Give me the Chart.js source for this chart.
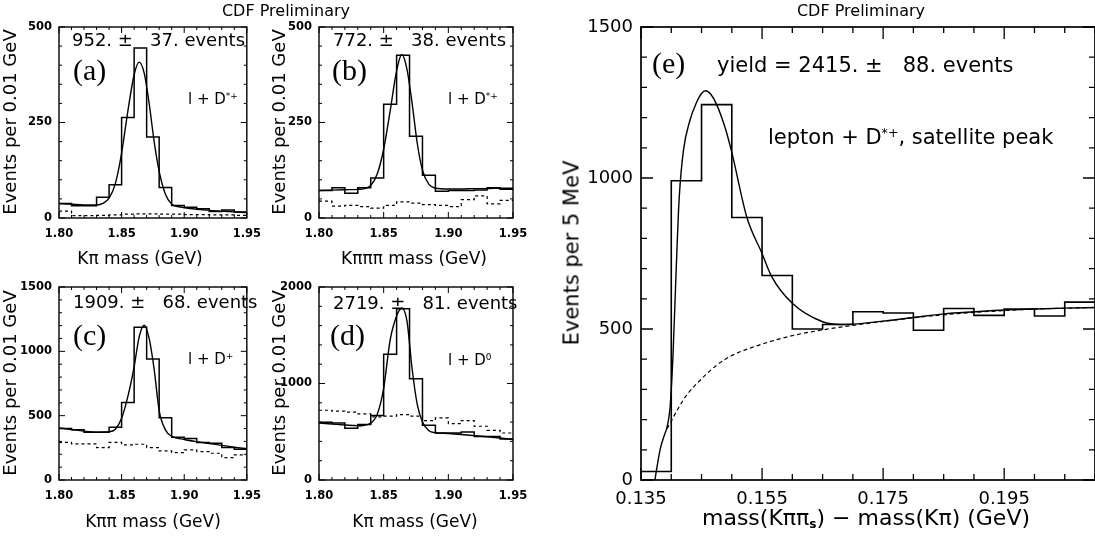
<!DOCTYPE html>
<html>
<head>
<meta charset="utf-8">
<script src="https://cdn.jsdelivr.net/npm/chart.js@4.4.0/dist/chart.umd.min.js"></script>
<style>
  body { margin: 0; background: #fff; }
  #page { position: relative; width: 1095px; height: 539px; overflow: hidden;
          font-family: "DejaVu Sans", sans-serif; color: #000; }
  #page canvas { position: absolute; }
  .txt { position: absolute; white-space: pre; line-height: 1; }
  .ctr { transform: translate(-50%, -50%); }
  .rot { transform: translate(-50%, -50%) rotate(-90deg); }
  .lbl { font-family: "Liberation Serif", "DejaVu Serif", serif; font-size: 30px; }
  .sup { font-size: 0.6em; position: relative; top: -0.55em; }
  .sub { font-size: 0.55em; position: relative; top: 0.25em; font-weight: bold; }
</style>
</head>
<body>
<div id="page">
  <canvas id="pa" width="270" height="270" style="left:0;top:0"></canvas>
  <canvas id="pb" width="270" height="270" style="left:270px;top:0"></canvas>
  <canvas id="pc" width="270" height="269" style="left:0;top:270px"></canvas>
  <canvas id="pd" width="270" height="269" style="left:270px;top:270px"></canvas>
  <canvas id="pe" width="535" height="539" style="left:560px;top:0"></canvas>

  <div class="txt ctr" style="left:286px;top:11px;font-size:16px">CDF Preliminary</div>
  <div class="txt ctr" style="left:861px;top:11px;font-size:16px">CDF Preliminary</div>

  <!-- panel (a) -->
  <div class="txt" style="left:72px;top:31px;font-size:18px">952. ±   37. events</div>
  <div class="txt lbl" style="left:73px;top:55px">(a)</div>
  <div class="txt" style="left:188px;top:92px;font-size:15px">l + D<span class="sup">*+</span></div>
  <div class="txt rot" style="left:10px;top:122px;font-size:18px">Events per 0.01 GeV</div>
  <div class="txt ctr" style="left:140px;top:258px;font-size:17px">Kπ mass (GeV)</div>

  <!-- panel (b) -->
  <div class="txt" style="left:333px;top:31px;font-size:18px">772. ±   38. events</div>
  <div class="txt lbl" style="left:332px;top:55px">(b)</div>
  <div class="txt" style="left:448px;top:92px;font-size:15px">l + D<span class="sup">*+</span></div>
  <div class="txt rot" style="left:279px;top:122px;font-size:18px">Events per 0.01 GeV</div>
  <div class="txt ctr" style="left:414px;top:258px;font-size:17px">Kπππ mass (GeV)</div>

  <!-- panel (c) -->
  <div class="txt" style="left:73px;top:293px;font-size:18px">1909. ±   68. events</div>
  <div class="txt lbl" style="left:73px;top:320px">(c)</div>
  <div class="txt" style="left:188px;top:352px;font-size:15px">l + D<span class="sup">+</span></div>
  <div class="txt rot" style="left:10px;top:383px;font-size:18px">Events per 0.01 GeV</div>
  <div class="txt ctr" style="left:153px;top:521px;font-size:17px">Kππ mass (GeV)</div>

  <!-- panel (d) -->
  <div class="txt" style="left:333px;top:294px;font-size:18px">2719. ±   81. events</div>
  <div class="txt lbl" style="left:330px;top:320px">(d)</div>
  <div class="txt" style="left:448px;top:353px;font-size:15px">l + D<span class="sup">0</span></div>
  <div class="txt rot" style="left:279px;top:383px;font-size:18px">Events per 0.01 GeV</div>
  <div class="txt ctr" style="left:415px;top:521px;font-size:17px">Kπ mass (GeV)</div>

  <!-- panel (e) -->
  <div class="txt lbl" style="left:652px;top:48px">(e)</div>
  <div class="txt" style="left:717px;top:55px;font-size:21px">yield = 2415. ±   88. events</div>
  <div class="txt" style="left:768px;top:127px;font-size:21px">lepton + D<span class="sup">*+</span>, satellite peak</div>
  <div class="txt rot" style="left:572px;top:253px;font-size:21px">Events per 5 MeV</div>
  <div class="txt ctr" style="left:866px;top:518px;font-size:22px">mass(Kππ<span class="sub">s</span>) − mass(Kπ) (GeV)</div>
</div>

<script>
// Bin edges (GeV)
const massEdges = [1.80, 1.81, 1.82, 1.83, 1.84, 1.85, 1.86, 1.87, 1.88, 1.89, 1.90, 1.91, 1.92, 1.93, 1.94, 1.95];
const dmEdges = [0.135, 0.140, 0.145, 0.150, 0.155, 0.160, 0.165, 0.170, 0.175, 0.180, 0.185, 0.190, 0.195, 0.200, 0.205, 0.210];

// Tick labels
const massTicks = [1.80, 1.85, 1.90, 1.95];
const dmTicks = [0.135, 0.155, 0.175, 0.195];
const yTicksAB = [0, 250, 500];
const yTicksC = [0, 500, 1000, 1500];
const yTicksD = [0, 1000, 2000];
const yTicksE = [0, 500, 1000, 1500];

// (a) l + D*+, K pi
const aCounts = [38, 32, 32, 54, 87, 263, 445, 212, 80, 33, 28, 24, 17, 21, 16];
const aSideband = [18, 6, 6, 7, 8, 10, 11, 11, 10, 10, 9, 9, 8, 8, 7];
const aFitX = [1.800, 1.810, 1.820, 1.830, 1.835, 1.840, 1.845, 1.850, 1.855, 1.860, 1.864, 1.868, 1.872, 1.876, 1.880, 1.885, 1.890, 1.895, 1.900, 1.910, 1.920, 1.930, 1.940, 1.950];
const aFitY = [38, 36, 34, 34, 38, 52, 90, 170, 280, 375, 408, 380, 300, 200, 122, 62, 36, 30, 27, 23, 20, 18, 16, 14];

// (b) l + D*+, K pi pi pi
const bCounts = [72, 79, 65, 79, 105, 298, 426, 214, 112, 70, 72, 72, 73, 79, 75];
const bSideband = [44, 31, 33, 30, 26, 33, 42, 39, 35, 33, 30, 48, 58, 37, 46];
const bFitX = [1.800, 1.810, 1.820, 1.830, 1.835, 1.840, 1.845, 1.850, 1.855, 1.860, 1.864, 1.868, 1.872, 1.876, 1.880, 1.885, 1.890, 1.900, 1.910, 1.920, 1.930, 1.940, 1.950];
const bFitY = [72, 73, 74, 75, 77, 85, 115, 180, 280, 385, 428, 390, 300, 195, 125, 88, 78, 76, 76, 77, 77, 78, 78];

// (c) l + D+, K pi pi
const cCounts = [400, 390, 372, 372, 410, 603, 1187, 940, 483, 332, 322, 291, 286, 252, 239];
const cSideband = [293, 281, 281, 252, 293, 273, 278, 252, 226, 213, 234, 221, 208, 174, 195];
const cFitX = [1.800, 1.810, 1.820, 1.830, 1.840, 1.845, 1.850, 1.855, 1.860, 1.864, 1.868, 1.872, 1.876, 1.880, 1.885, 1.890, 1.900, 1.910, 1.920, 1.930, 1.940, 1.950];
const cFitY = [405, 392, 380, 372, 375, 395, 480, 650, 880, 1110, 1203, 1100, 860, 540, 390, 340, 315, 298, 284, 269, 255, 243];

// (d) l + D0, K pi
const dCounts = [598, 591, 536, 574, 668, 1304, 1774, 1050, 567, 487, 487, 497, 452, 452, 424];
const dSideband = [723, 713, 703, 685, 654, 661, 678, 661, 616, 643, 584, 616, 557, 515, 487];
const dFitX = [1.800, 1.810, 1.820, 1.830, 1.840, 1.845, 1.850, 1.855, 1.860, 1.864, 1.868, 1.872, 1.876, 1.880, 1.885, 1.890, 1.900, 1.910, 1.920, 1.930, 1.940, 1.950];
const dFitY = [590, 580, 570, 562, 590, 680, 950, 1450, 1700, 1780, 1650, 1150, 780, 600, 510, 490, 482, 472, 460, 448, 435, 420];

// (e) satellite peak, mass difference
const eCounts = [28, 991, 1243, 869, 677, 500, 515, 557, 553, 496, 568, 545, 566, 543, 589];
const eFitX = [0.1373, 0.1377, 0.1382, 0.1388, 0.1393, 0.1398, 0.1403, 0.1408, 0.1413, 0.1420, 0.1431, 0.1441, 0.1450, 0.1457, 0.1465, 0.1475, 0.1490, 0.1500, 0.1525, 0.1550, 0.1565, 0.1600, 0.1650, 0.1680, 0.1700, 0.1750, 0.1800, 0.1850, 0.1900, 0.1950, 0.2000, 0.2050, 0.2100];
const eFitY = [0, 50, 105, 145, 175, 240, 420, 690, 930, 1090, 1192, 1247, 1280, 1289, 1278, 1243, 1160, 1085, 869, 750, 677, 585, 524, 515, 516, 526, 538, 550, 557, 563, 566, 569, 571];
const eBkgX = [0.1393, 0.1400, 0.1410, 0.1425, 0.1450, 0.1475, 0.1500, 0.1550, 0.1600, 0.1650, 0.1700, 0.1750, 0.1800, 0.1850, 0.1900, 0.1950, 0.2000, 0.2050, 0.2100];
const eBkgY = [170, 195, 232, 280, 335, 380, 412, 450, 478, 497, 512, 525, 537, 547, 555, 561, 566, 569, 571];

// histogram: one point per bin low edge, plus the closing edge
function histPoints(edges, counts) {
    const pts = counts.map((c, i) => ({ x: edges[i], y: c }));
    pts.push({ x: edges[edges.length - 1], y: counts[counts.length - 1] });
    return pts;
}

function curvePoints(xs, ys) {
    return xs.map((x, i) => ({ x: x, y: ys[i] }));
}

// Frame with inward ticks on all four sides
const frameTicks = {
    id: 'frameTicks',
    afterDatasetsDraw(chart, args, o) {
        const { ctx, chartArea: a, scales } = chart;
        const sx = scales.x, sy = scales.y;
        ctx.save();
        ctx.strokeStyle = '#000';
        ctx.lineWidth = o.frameWidth;
        ctx.strokeRect(a.left, a.top, a.right - a.left, a.bottom - a.top);
        ctx.lineWidth = o.tickWidth;
        ctx.beginPath();
        const nx = Math.round((sx.max - sx.min) / o.xStep);
        for (let i = 0; i <= nx; i++) {
            const px = sx.getPixelForValue(sx.min + i * o.xStep);
            const len = i % o.xMajor === 0 ? o.majorLen : o.minorLen;
            ctx.moveTo(px, a.bottom); ctx.lineTo(px, a.bottom - len);
            ctx.moveTo(px, a.top); ctx.lineTo(px, a.top + len);
        }
        const ny = Math.round((sy.max - sy.min) / o.yStep);
        for (let i = 0; i <= ny; i++) {
            const py = sy.getPixelForValue(sy.min + i * o.yStep);
            const len = i % o.yMajor === 0 ? o.majorLen : o.minorLen;
            ctx.moveTo(a.left, py); ctx.lineTo(a.left + len, py);
            ctx.moveTo(a.right, py); ctx.lineTo(a.right - len, py);
        }
        ctx.stroke();
        ctx.restore();
    }
};

function makePanel(id, p) {
    const datasets = [
        { data: histPoints(p.edges, p.counts), stepped: 'before', borderWidth: p.histWidth },
        { data: curvePoints(p.fitX, p.fitY), cubicInterpolationMode: 'monotone', borderWidth: 1.4 }
    ];
    if (p.sideband) {
        datasets.push({ data: histPoints(p.edges, p.sideband), stepped: 'before', borderWidth: 1.2, borderDash: [3, 3] });
    }
    if (p.bkgX) {
        datasets.push({ data: curvePoints(p.bkgX, p.bkgY), cubicInterpolationMode: 'monotone', borderWidth: 1.2, borderDash: [4, 3] });
    }
    datasets.forEach(d => {
        d.borderColor = '#000';
        d.pointRadius = 0;
        d.fill = false;
    });

    return new Chart(document.getElementById(id), {
        type: 'line',
        data: { datasets: datasets },
        plugins: [frameTicks],
        options: {
            responsive: false,
            animation: false,
            layout: { padding: { top: p.padTop, right: p.padRight, bottom: 0, left: 0 } },
            scales: {
                x: {
                    type: 'linear',
                    min: p.edges[0],
                    max: p.edges[p.edges.length - 1],
                    grid: { display: false, drawTicks: false },
                    border: { display: false },
                    afterBuildTicks: s => { s.ticks = p.xTicks.map(v => ({ value: v })); },
                    afterFit: s => { s.height = p.xHeight; },
                    ticks: {
                        color: '#000',
                        padding: p.xPad,
                        maxRotation: 0,
                        font: p.tickFont,
                        callback: v => v.toFixed(p.xDigits)
                    }
                },
                y: {
                    type: 'linear',
                    min: 0,
                    max: p.yMax,
                    grid: { display: false, drawTicks: false },
                    border: { display: false },
                    afterBuildTicks: s => { s.ticks = p.yTicks.map(v => ({ value: v })); },
                    afterFit: s => { s.width = p.yWidth; },
                    ticks: {
                        color: '#000',
                        padding: p.yPad,
                        font: p.tickFont,
                        callback: v => String(v)
                    }
                }
            },
            plugins: {
                legend: { display: false },
                tooltip: { enabled: false },
                frameTicks: p.frame
            }
        }
    });
}

const smallFont = { family: 'DejaVu Sans', size: 11.5, weight: 'bold' };
const smallFrame = (yStep) => ({ frameWidth: 1.4, tickWidth: 1, xStep: 0.01, xMajor: 5, yStep: yStep, yMajor: 5, majorLen: 6, minorLen: 3 });

makePanel('pa', {
    edges: massEdges, counts: aCounts, sideband: aSideband, fitX: aFitX, fitY: aFitY,
    yMax: 500, xTicks: massTicks, yTicks: yTicksAB, xDigits: 2, tickFont: smallFont,
    padTop: 27, padRight: 17, yWidth: 59, xHeight: 52, xPad: 9, yPad: 7, histWidth: 1.5,
    frame: smallFrame(50)
});
makePanel('pb', {
    edges: massEdges, counts: bCounts, sideband: bSideband, fitX: bFitX, fitY: bFitY,
    yMax: 500, xTicks: massTicks, yTicks: yTicksAB, xDigits: 2, tickFont: smallFont,
    padTop: 27, padRight: 27, yWidth: 49, xHeight: 52, xPad: 9, yPad: 7, histWidth: 1.5,
    frame: smallFrame(50)
});
makePanel('pc', {
    edges: massEdges, counts: cCounts, sideband: cSideband, fitX: cFitX, fitY: cFitY,
    yMax: 1500, xTicks: massTicks, yTicks: yTicksC, xDigits: 2, tickFont: smallFont,
    padTop: 17, padRight: 17, yWidth: 59, xHeight: 59, xPad: 9, yPad: 7, histWidth: 1.5,
    frame: smallFrame(100)
});
makePanel('pd', {
    edges: massEdges, counts: dCounts, sideband: dSideband, fitX: dFitX, fitY: dFitY,
    yMax: 2000, xTicks: massTicks, yTicks: yTicksD, xDigits: 2, tickFont: smallFont,
    padTop: 17, padRight: 27, yWidth: 49, xHeight: 59, xPad: 9, yPad: 7, histWidth: 1.5,
    frame: smallFrame(200)
});
makePanel('pe', {
    edges: dmEdges, counts: eCounts, fitX: eFitX, fitY: eFitY, bkgX: eBkgX, bkgY: eBkgY,
    yMax: 1500, xTicks: dmTicks, yTicks: yTicksE, xDigits: 3,
    tickFont: { family: 'DejaVu Sans', size: 18 },
    padTop: 27, padRight: 0, yWidth: 81, xHeight: 59, xPad: 9, yPad: 8, histWidth: 1.6,
    frame: { frameWidth: 1.7, tickWidth: 1.3, xStep: 0.005, xMajor: 4, yStep: 100, yMajor: 5, majorLen: 12, minorLen: 6 }
});
</script>
</body>
</html>
